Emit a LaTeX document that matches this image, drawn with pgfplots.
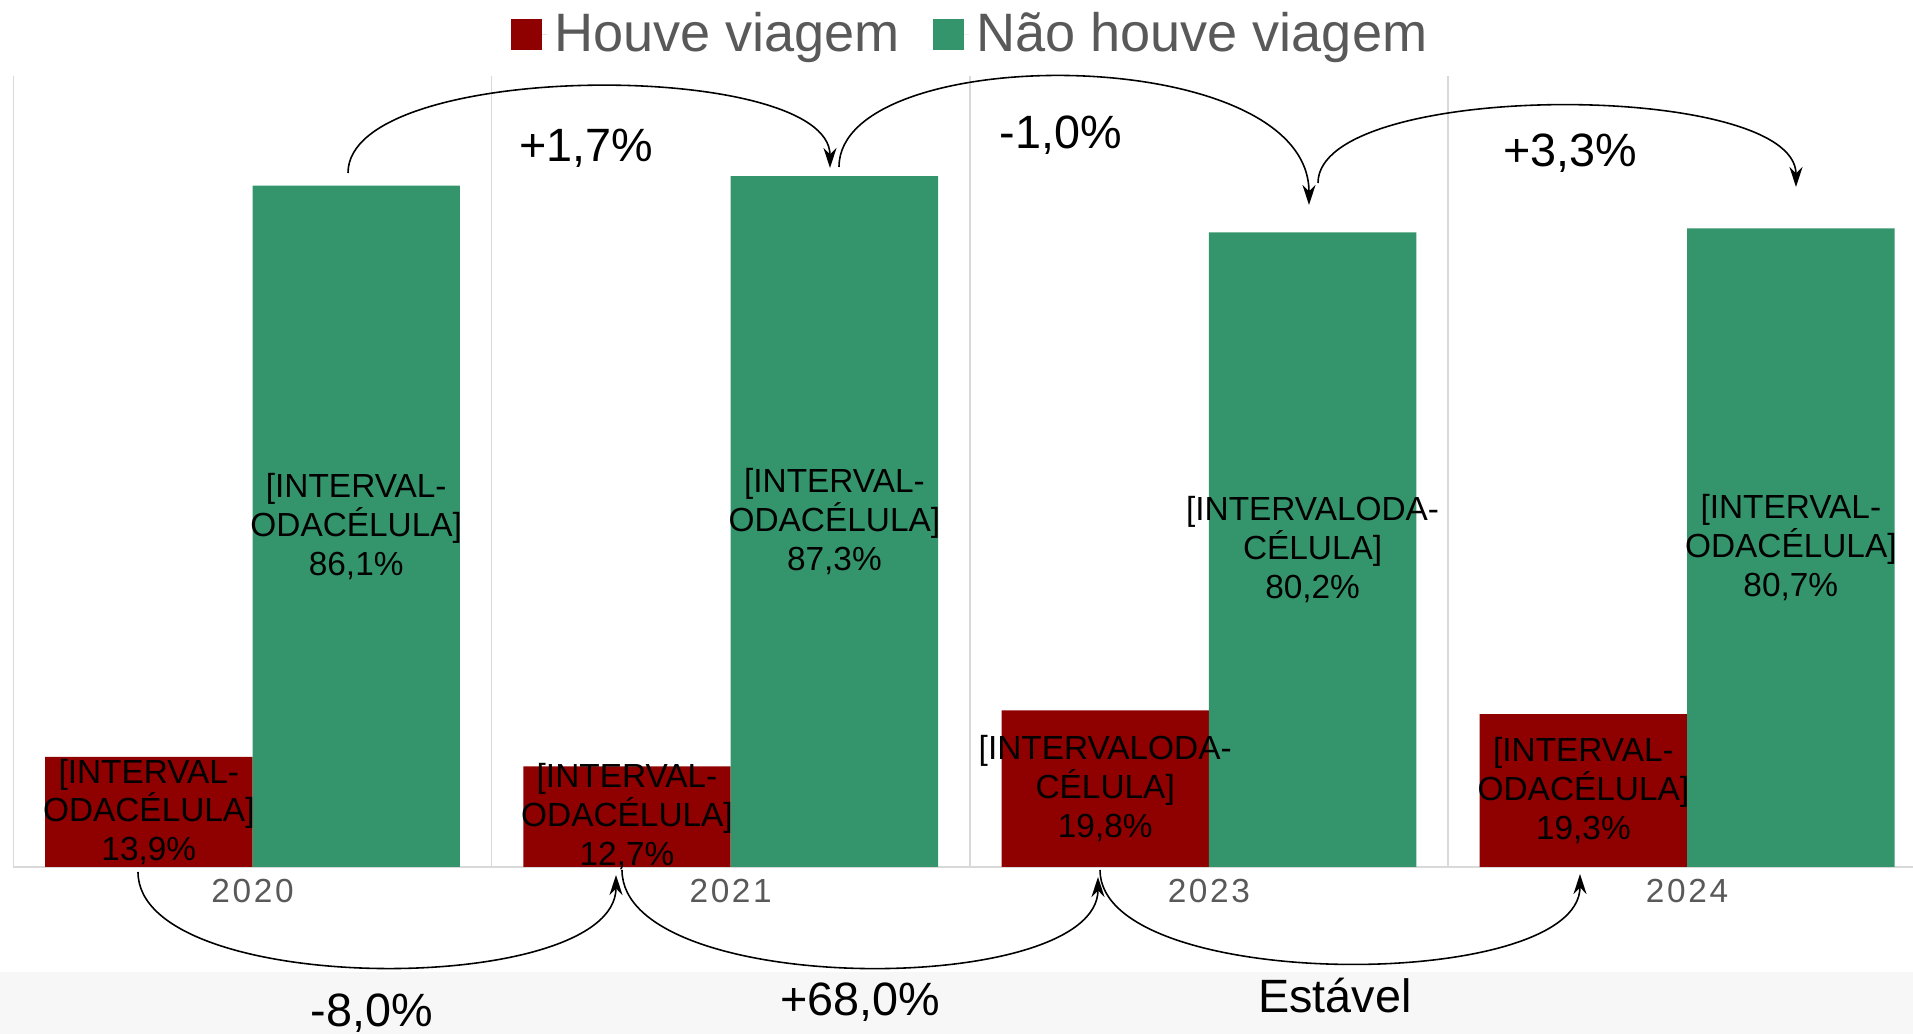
\documentclass[border=0pt]{standalone}
\usepackage{pgfplots}
\pgfplotsset{compat=1.18}
\usepackage{pgfplotstable}
\usepackage{fontspec}
\setmainfont{Liberation Sans}
\usetikzlibrary{arrows.meta}
\definecolor{redbar}{HTML}{8F0000}
\definecolor{greenbar}{HTML}{34956C}
\definecolor{gridgray}{HTML}{D9D9D9}
\definecolor{txtgray}{HTML}{595959}
\definecolor{bandgray}{HTML}{F7F7F7}

\pgfplotstableread{
x  y     w
0  13.9  0
1  12.7  0
2  19.8  1
3  19.3  0
}\houve
\pgfplotstableread{
x  y     w
0  86.1  0
1  87.3  0
2  80.2  1
3  80.7  0
}\naohouve

\begin{document}
\begin{tikzpicture}
\path[use as bounding box] (-1.34mm,-16.7mm) rectangle (189.96mm,86.7mm);
\fill[bandgray] (-1.34mm,-16.7mm) rectangle (189.96mm,-10.5mm);
\begin{axis}[
  at={(0,0)}, anchor=south west,
  scale only axis, width=189.96mm, height=79.14mm,
  xmin=-0.5, xmax=3.4724, ymin=0, ymax=100,
  enlargelimits=false, clip=false,
  ybar=0pt, bar width=20.74mm,
  axis x line*=bottom, axis y line=none,
  x axis line style={gridgray, line width=0.2mm},
  xtick={0,1,2,3}, xticklabels={2020,2021,2023,2024},
  major tick length=0, minor tick length=0,
  minor xtick={-0.5,0.5,1.5,2.5}, xminorgrids,
  minor x grid style={gridgray, line width=0.15mm},
  xticklabel style={font=\fontsize{9.5}{11}\selectfont\addfontfeature{LetterSpace=8}, text=txtgray, anchor=north, inner sep=0pt, yshift=-1.1mm},
  ytick=\empty,
  legend columns=2,
  legend style={at={(0.5050,1.0525)}, anchor=center, draw=none, fill=none,
    font=\fontsize{15.4}{18}\selectfont, text=txtgray, inner sep=0pt,
    /tikz/every even column/.append style={column sep=2.6mm}},
  legend image code/.code={\fill[#1] (0mm,-1.55mm) rectangle (3.1mm,1.55mm); \path (0mm,0mm) -- (3.6mm,0mm);},
  nodes near coords={\ifdim\wflag pt>0.5pt [INTERVALODA-\\CÉLULA]\else[INTERVAL-\\ODACÉLULA]\fi\\\pgfmathprintnumber[fixed,fixed zerofill,precision=1,use comma,assume math mode=true]{\pgfplotspointmeta}\%},
  visualization depends on={y \as \rawy},
  visualization depends on={\thisrow{w} \as \wflag},
  every node near coord/.append style={font=\fontsize{9.5}{11.05}\selectfont, align=center, anchor=center, text=black, inner sep=0pt,
    shift={(axis direction cs:0,-\rawy/2)}},
]
\addplot[fill=redbar, draw=none] table[x=x,y=y] {\houve};
\addplot[fill=greenbar, draw=none] table[x=x,y=y] {\naohouve};
\legend{Houve viagem, Não houve viagem}
\end{axis}
\tikzset{arc/.style={-{Stealth[length=2mm,width=1.3mm]}, line width=0.45pt, black}}
\draw[arc] (33.46mm,69.4mm) .. controls (33.46mm,80.8mm) and (81.66mm,80.8mm) .. (81.66mm,69.9mm);
\draw[arc] (82.56mm,70.0mm) .. controls (82.56mm,82.6mm) and (129.56mm,82.6mm) .. (129.56mm,66.2mm);
\draw[arc] (130.46mm,68.4mm) .. controls (130.46mm,78.7mm) and (178.26mm,78.7mm) .. (178.26mm,68.0mm);
\draw[arc] (12.46mm,-0.5mm) .. controls (12.46mm,-13.1mm) and (60.26mm,-13.1mm) .. (60.26mm,-0.8mm);
\draw[arc] (60.86mm,-0.3mm) .. controls (60.86mm,-13.1mm) and (108.46mm,-13.1mm) .. (108.46mm,-1.0mm);
\draw[arc] (108.66mm,-0.3mm) .. controls (108.66mm,-12.6mm) and (156.66mm,-12.6mm) .. (156.66mm,-0.7mm);
\begin{scope}[every node/.style={anchor=base, font=\fontsize{13.3}{16}\selectfont, inner sep=0pt}]
\node at (57.26mm,70.5mm) {+1,7\%};
\node at (104.76mm,71.8mm) {-1,0\%};
\node at (155.66mm,70.0mm) {+3,3\%};
\node at (35.86mm,-16.0mm) {-8,0\%};
\node at (84.66mm,-14.9mm) {+68,0\%};
\node at (132.16mm,-14.6mm) {Estável};
\end{scope}
\end{tikzpicture}
\end{document}
